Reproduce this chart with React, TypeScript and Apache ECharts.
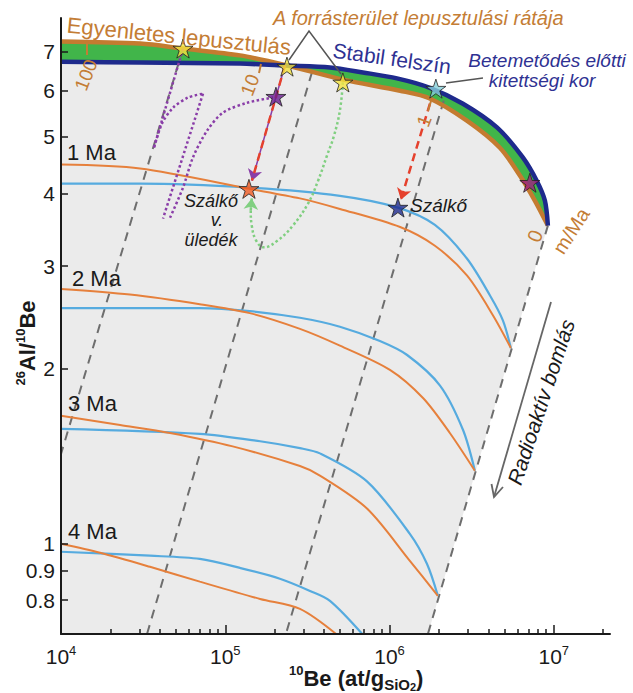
import React, { useEffect, useRef } from "react";
import * as echarts from "echarts";

type P = [number, number];

// ---------- axes ----------
const X_MIN = 1e4;
const X_MAX = 2.2e7;
const Y_MIN = 0.7;
const Y_MAX = 8;
const xMajorTicks = [1e4, 1e5, 1e6, 1e7];
const xMinorTicks = [
  2e4, 3e4, 4e4, 5e4, 6e4, 7e4, 8e4, 9e4,
  2e5, 3e5, 4e5, 5e5, 6e5, 7e5, 8e5, 9e5,
  2e6, 3e6, 4e6, 5e6, 6e6, 7e6, 8e6, 9e6,
  2e7,
];
const yTicks = [0.8, 0.9, 1, 2, 3, 4, 5, 6, 7];

// ---------- top curves: steady erosion (orange) and stable surface (blue) ----------
const steadyErosion: P[] = [
  [1e4, 7.29], [3.03e4, 7.23], [5.53e4, 7.09], [1.23e5, 6.9], [2.38e5, 6.63],
  [5.2e5, 6.27], [1.16e6, 6.0], [1.76e6, 5.82], [2.96e6, 5.33], [4.7e6, 4.79],
  [6.22e6, 4.29], [7.67e6, 3.885], [9.21e6, 3.52],
];
const stableSurface: P[] = [
  [1e4, 6.73], [3.03e4, 6.71], [1.23e5, 6.68], [2.38e5, 6.63], [4.34e5, 6.58],
  [6.89e5, 6.45], [1.11e6, 6.3], [1.76e6, 6.07], [2.8e6, 5.7], [4.51e6, 5.19],
  [6.48e6, 4.61], [7.89e6, 4.2], [8.83e6, 3.885], [9.21e6, 3.52],
];

// ---------- burial isochrons ----------
const isochronLabels = ["1 Ma", "2 Ma", "3 Ma", "4 Ma"];
const iso1Erosion: P[] = [
  [1e4, 4.48], [3.03e4, 4.41], [1.41e5, 4.07], [2.85e5, 3.92], [4.99e5, 3.76],
  [1.16e6, 3.5], [1.89e6, 3.25], [2.96e6, 2.89], [4.26e6, 2.47], [5.48e6, 2.17],
];
const iso1Stable: P[] = [
  [1e4, 4.155], [3.03e4, 4.155], [1.41e5, 4.09], [4.99e5, 3.96], [1.125e6, 3.78],
  [1.89e6, 3.53], [2.96e6, 3.09], [4.09e6, 2.67], [4.9e6, 2.42], [5.48e6, 2.17],
];
const iso2Erosion: P[] = [
  [1e4, 2.74], [2.63e4, 2.68], [7.0e4, 2.58], [1.41e5, 2.49], [2.85e5, 2.34],
  [4.99e5, 2.19], [1.006e6, 1.99], [1.6e6, 1.78], [2.33e6, 1.55], [3.31e6, 1.335],
];
const iso2Stable: P[] = [
  [1e4, 2.54], [7.0e4, 2.54], [1.41e5, 2.51], [2.85e5, 2.445], [4.99e5, 2.36],
  [8.74e5, 2.23], [1.28e6, 2.11], [2.03e6, 1.87], [2.8e6, 1.57], [3.31e6, 1.335],
];
const iso3Erosion: P[] = [
  [1e4, 1.66], [2.29e4, 1.6], [4.61e4, 1.55], [1.11e5, 1.47], [2.85e5, 1.36],
  [3.77e5, 1.31], [7.29e5, 1.15], [1.33e6, 0.935], [1.97e6, 0.814],
];
const iso3Stable: P[] = [
  [1e4, 1.576], [7.0e4, 1.545], [1.63e5, 1.5], [2.85e5, 1.46], [3.77e5, 1.43],
  [7.29e5, 1.28], [1.33e6, 1.04], [1.69e6, 0.924], [1.97e6, 0.814],
];
const iso4Erosion: P[] = [
  [1e4, 1.0], [1.73e4, 0.965], [3.48e4, 0.913], [7.0e4, 0.861], [1.63e5, 0.804],
  [2.85e5, 0.773], [4.79e5, 0.698],
];
const iso4Stable: P[] = [
  [1e4, 0.969], [3.48e4, 0.954], [7.0e4, 0.942], [1.23e5, 0.909], [2.15e5, 0.871],
  [3.28e5, 0.83], [4.34e5, 0.798], [6.89e5, 0.698],
];

// ---------- radioactive decay trajectories (dashed) ----------
const decay100: P[] = [[5.53e4, 7.09], [1e4, 1.427]];
const decay10: P[] = [[3.37e5, 6.45], [3.34e4, 0.7]];
const decay1: P[] = [[2.14e6, 5.77], [2.34e5, 0.7]];
const decay0: P[] = [[9.21e6, 3.52], [1.713e6, 0.7]];

// ---------- sample histories ----------
const purpleDecayA: P[] = [[5.53e4, 7.09], [3.68e4, 4.79]];
const purpleExposeA: P[] = [[3.68e4, 4.79], [4.12e4, 5.27], [4.81e4, 5.61], [5.93e4, 5.84], [7.32e4, 5.93]];
const purpleDecayB: P[] = [[7.32e4, 5.93], [4.18e4, 3.62]];
const purpleExposeB: P[] = [
  [4.61e4, 3.63], [5.53e4, 4.09], [6.36e4, 4.61], [7.74e4, 5.12], [9.68e4, 5.5],
  [1.356e5, 5.72], [1.951e5, 5.84],
];
const greenHistory: P[] = [
  [5.2e5, 6.2], [4.99e5, 5.55], [4.59e5, 5.02], [4.16e5, 4.64], [3.67e5, 4.2],
  [3.19e5, 3.84], [2.58e5, 3.52], [2.09e5, 3.32], [1.72e5, 3.23], [1.54e5, 3.32],
  [1.45e5, 3.52], [1.43e5, 3.74], [1.45e5, 3.92],
];
const sedimentBurial: P[] = [[2.31e5, 6.63], [1.454e5, 4.205]];
const boulderBurial: P[] = [[1.762e6, 5.7], [1.173e6, 3.9]];

// ---------- stars ----------
const starPoints: P[] = [
  [5.53e4, 7.09], [2.375e5, 6.6], [5.2e5, 6.2], // yellow
  [2.035e5, 5.86], // purple
  [1.394e5, 4.07], // orange (Szálkő v. üledék)
  [1.125e6, 3.78], // blue (Szálkő)
  [1.916e6, 6.05], // cyan
  [7.15e6, 4.17], // magenta
];
const starColors = ["#f4e43f", "#f4e43f", "#f4e43f", "#6a1d8e", "#f05a22", "#1f2c8f", "#86d0d9", "#a0217f"];

const FONT = '"Liberation Sans", Arial, Helvetica, sans-serif';
const STAR =
  "path://M50 2 L61.2 36.6 L97.6 36.6 L68.2 58 L79.4 92.6 L50 71.2 L20.6 92.6 L31.8 58 L2.4 36.6 L38.8 36.6 Z";

const C = {
  gray: "#ebebeb",
  green: "#41b54a",
  erosionTop: "#c47b30",
  stableTop: "#1e2a8c",
  isoOrange: "#e6803c",
  isoBlue: "#56abdf",
  dash: "#6e6e6e",
  purple: "#8a3ea8",
  greenDot: "#80cf80",
  red: "#e5412d",
  label: "#c47d35",
  navy: "#2e3192",
  ink: "#1a1a1a",
};

function txt(text: string, x: number, y: number, o: any = {}) {
  const align = o.align || "left";
  return {
    type: "text",
    x,
    y,
    rotation: o.rot || 0,
    z: 100,
    silent: true,
    style: {
      text,
      fill: o.color || C.ink,
      fontSize: o.size || 20,
      fontFamily: FONT,
      fontStyle: o.italic ? "italic" : "normal",
      fontWeight: o.bold ? "bold" : "normal",
      align,
      textAlign: align,
      verticalAlign: "middle",
      textVerticalAlign: "middle",
      rich: o.rich,
    },
  };
}

function seg(x1: number, y1: number, x2: number, y2: number, color: string, w = 1.5) {
  return { type: "line", z: 100, silent: true, shape: { x1, y1, x2, y2 }, style: { stroke: color, lineWidth: w } };
}

function lineSeries(data: P[], color: string, width: number, z: number, extra: any = {}) {
  return {
    type: "line",
    data,
    z,
    showSymbol: false,
    symbol: "none",
    silent: true,
    smooth: extra.smooth ?? 0.3,
    clip: true,
    lineStyle: { color, width, type: extra.type || "solid", cap: "butt" },
  };
}

function arrowSeries(coords: P[], color: string, width: number, z: number, type: any, arrow: boolean) {
  return {
    type: "lines",
    coordinateSystem: "cartesian2d",
    z,
    silent: true,
    symbol: arrow ? ["none", "arrow"] : ["none", "none"],
    symbolSize: 11,
    lineStyle: { color, width, type, opacity: 1 },
    data: [{ coords }],
  };
}

function polygonSeries(points: P[], fill: string, z: number) {
  return {
    type: "custom",
    z,
    silent: true,
    clip: true,
    data: [[X_MIN, Y_MIN]],
    renderItem: (_p: any, api: any) => ({
      type: "polygon",
      shape: { points: points.map((pt) => api.coord(pt)) },
      style: { fill },
    }),
  };
}

export default function App() {
  const ref = useRef<HTMLDivElement>(null);

  useEffect(() => {
    if (!ref.current) return;
    const chart = echarts.init(ref.current, undefined, { renderer: "svg" });

    const grayRegion: P[] = [...steadyErosion, decay0[1], [X_MIN, Y_MIN]];
    const greenBand: P[] = [...steadyErosion, ...[...stableSurface].reverse()];

    const axisLineStyle = { color: C.ink, width: 2 };
    const tickStyle = { color: C.ink, width: 1.5 };

    const option: any = {
      animation: false,
      backgroundColor: "#ffffff",
      textStyle: { fontFamily: FONT },
      grid: { left: 61, right: 23, top: 18, bottom: 59, containLabel: false, outerBoundsMode: "none" },
      xAxis: [
        {
          type: "log",
          min: X_MIN,
          max: X_MAX,
          position: "bottom",
          z: 10,
          axisLine: { show: true, lineStyle: axisLineStyle },
          axisTick: { show: true, inside: true, length: 9, customValues: xMajorTicks, lineStyle: tickStyle },
          axisLabel: {
            show: true,
            margin: 10,
            customValues: xMajorTicks,
            formatter: (v: number) => `{b|10}{s|${Math.round(Math.log10(v))}}`,
            rich: {
              b: { fontSize: 21, fontFamily: FONT, color: C.ink, lineHeight: 24 },
              s: { fontSize: 13, fontFamily: FONT, color: C.ink, lineHeight: 13, verticalAlign: "top" },
            },
          },
          splitLine: { show: false },
          minorTick: { show: false },
        },
        {
          type: "log",
          min: X_MIN,
          max: X_MAX,
          position: "bottom",
          offset: 0,
          z: 10,
          axisLine: { show: false },
          axisTick: { show: true, inside: true, length: 5, customValues: xMinorTicks, lineStyle: tickStyle },
          axisLabel: { show: false },
          splitLine: { show: false },
        },
      ],
      yAxis: {
        type: "log",
        min: Y_MIN,
        max: Y_MAX,
        z: 10,
        axisLine: { show: true, lineStyle: axisLineStyle },
        axisTick: { show: true, inside: true, length: 7, customValues: yTicks, lineStyle: tickStyle },
        axisLabel: {
          show: true,
          margin: 6,
          customValues: yTicks,
          fontSize: 21,
          color: C.ink,
          fontFamily: FONT,
          formatter: (v: number) => String(+(+v).toFixed(2)),
        },
        splitLine: { show: false },
      },
      series: [
        polygonSeries(grayRegion, C.gray, 1),
        polygonSeries(greenBand, C.green, 2),
        // decay lines
        ...[decay100, decay10, decay1, decay0].map((d) => lineSeries(d, C.dash, 2, 3, { type: [9, 7], smooth: false })),
        // isochrons
        lineSeries(iso1Stable, C.isoBlue, 2.2, 4),
        lineSeries(iso2Stable, C.isoBlue, 2.2, 4),
        lineSeries(iso3Stable, C.isoBlue, 2.2, 4),
        lineSeries(iso4Stable, C.isoBlue, 2.2, 4),
        lineSeries(iso1Erosion, C.isoOrange, 2, 4),
        lineSeries(iso2Erosion, C.isoOrange, 2, 4),
        lineSeries(iso3Erosion, C.isoOrange, 2, 4),
        lineSeries(iso4Erosion, C.isoOrange, 2, 4),
        // top curves
        lineSeries(steadyErosion, C.erosionTop, 4.5, 5),
        lineSeries(stableSurface, C.stableTop, 4.5, 6),
        // complex histories
        lineSeries(purpleDecayA, C.purple, 2.5, 7, { type: [2.5, 2.5], smooth: false }),
        lineSeries(purpleExposeA, C.purple, 2.5, 7, { type: [2.5, 2.5] }),
        lineSeries(purpleDecayB, C.purple, 2.5, 7, { type: [2.5, 2.5], smooth: false }),
        lineSeries(purpleExposeB, C.purple, 2.5, 7, { type: [2.5, 2.5] }),
        lineSeries(greenHistory, C.greenDot, 2.5, 7, { type: [2.5, 2.5], smooth: 0.4 }),
        arrowSeries(greenHistory.slice(-2) as P[], C.greenDot, 2.5, 7, [2.5, 2.5], true),
        arrowSeries(sedimentBurial, C.purple, 1.5, 8, "solid", true),
        arrowSeries(sedimentBurial, C.red, 2.5, 9, [8, 5], false),
        arrowSeries(boulderBurial, C.red, 2.5, 9, [8, 5], true),
        // stars
        {
          type: "scatter",
          z: 12,
          silent: true,
          symbol: STAR,
          symbolSize: 20,
          symbolKeepAspect: true,
          data: starPoints.map((p, i) => ({
            value: p,
            itemStyle: { color: starColors[i], borderColor: "#222", borderWidth: 1 },
          })),
        },
      ],
      graphic: [
        txt("Egyenletes lepusztulás", 67, 25, { size: 22, color: C.label, rot: -0.1 }),
        txt("A forrásterület lepusztulási rátája", 273, 18, { size: 20, color: C.label, italic: true }),
        txt("Stabil felszín", 333, 50, { size: 21, color: C.navy, rot: -0.14 }),
        txt("Betemetődés előtti", 547, 60, { size: 19, color: C.navy, italic: true, align: "center" }),
        txt("kitettségi kor", 542, 80, { size: 19, color: C.navy, italic: true, align: "center" }),
        txt(isochronLabels[0], 67, 152, { size: 22 }),
        txt(isochronLabels[1], 72, 278, { size: 22 }),
        txt(isochronLabels[2], 68, 403, { size: 22 }),
        txt(isochronLabels[3], 68, 531, { size: 22 }),
        txt("Szálkő", 211, 201, { size: 18, italic: true, align: "center" }),
        txt("v.", 217, 220, { size: 18, italic: true, align: "center" }),
        txt("üledék", 211, 240, { size: 18, italic: true, align: "center" }),
        txt("Szálkő", 410, 205, { size: 19, italic: true }),
        txt("Radioaktív bomlás", 541, 402, { size: 21, italic: true, align: "center", rot: 1.25 }),
        txt("100", 86, 75, { size: 19, color: C.label, align: "center", rot: 1.2 }),
        txt("10", 250, 85, { size: 19, color: C.label, align: "center", rot: 1.2 }),
        txt("1", 424, 121, { size: 19, color: C.label, align: "center", rot: 1.2 }),
        txt("0", 535, 236, { size: 20, color: C.label, align: "center", rot: 1.2 }),
        txt("m/Ma", 571, 231, { size: 20, color: C.label, align: "center", rot: 1.0 }),
        seg(87, 43, 87, 55, C.label, 2),
        seg(259, 73, 261, 64, C.label, 2),
        seg(428, 111, 431, 101, C.label, 2),
        { type: "polyline", z: 100, silent: true, shape: { points: [[289, 60], [309, 31], [341, 74]] }, style: { stroke: "#555", lineWidth: 1.5, fill: null } },
        seg(446, 83, 483, 78, "#555", 1.5),
        seg(551, 302, 494, 497, "#666", 1.8),
        { type: "polyline", z: 100, silent: true, shape: { points: [[503, 487], [494, 497], [491.5, 484]] }, style: { stroke: "#666", lineWidth: 1.8, fill: null } },
        txt("{sup|10}{b|Be (at/g}{sub|SiO}{sub2|2}{b|)}", 289, 678, {
          rich: {
            b: { fontSize: 22, fontWeight: "bold", fontFamily: FONT, fill: C.ink, lineHeight: 28 },
            sup: { fontSize: 13, fontWeight: "bold", fontFamily: FONT, fill: C.ink, lineHeight: 16, verticalAlign: "top" },
            sub: { fontSize: 15, fontWeight: "bold", fontFamily: FONT, fill: C.ink, lineHeight: 18, verticalAlign: "bottom" },
            sub2: { fontSize: 11, fontWeight: "bold", fontFamily: FONT, fill: C.ink, lineHeight: 11, verticalAlign: "bottom" },
          },
        }),
        txt("{sup|26}{b|Al/}{sup|10}{b|Be}", 27, 343, {
          align: "center",
          rot: Math.PI / 2,
          rich: {
            b: { fontSize: 22, fontWeight: "bold", fontFamily: FONT, fill: C.ink, lineHeight: 26 },
            sup: { fontSize: 13, fontWeight: "bold", fontFamily: FONT, fill: C.ink, lineHeight: 16, verticalAlign: "top" },
          },
        }),
      ],
    };

    chart.setOption(option);
    return () => chart.dispose();
  }, []);

  return (
    <div
      ref={ref}
      style={{ position: "absolute", left: 0, top: 0, width: 633, height: 693, background: "#fff" }}
    />
  );
}
